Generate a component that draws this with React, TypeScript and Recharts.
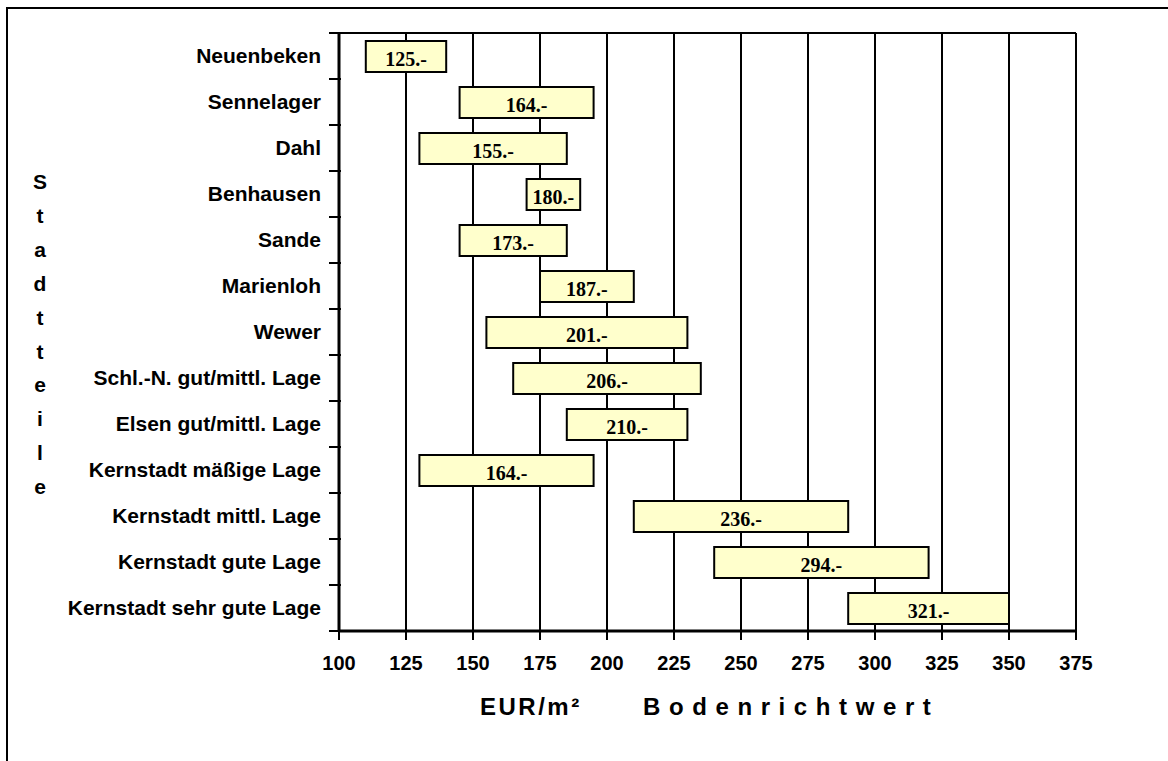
import React from 'react';
import { BarChart, Bar, XAxis, YAxis, CartesianGrid, LabelList, Label } from 'recharts';

const districts = [
  'Neuenbeken',
  'Sennelager',
  'Dahl',
  'Benhausen',
  'Sande',
  'Marienloh',
  'Wewer',
  'Schl.-N. gut/mittl. Lage',
  'Elsen gut/mittl. Lage',
  'Kernstadt mäßige Lage',
  'Kernstadt mittl. Lage',
  'Kernstadt gute Lage',
  'Kernstadt sehr gute Lage',
];
const rangeLow = [110, 145, 130, 170, 145, 175, 155, 165, 185, 130, 210, 240, 290];
const rangeHigh = [140, 195, 185, 190, 185, 210, 230, 235, 230, 195, 290, 320, 350];
const averageValues = [125, 164, 155, 180, 173, 187, 201, 206, 210, 164, 236, 294, 321];
const xTicks = [100, 125, 150, 175, 200, 225, 250, 275, 300, 325, 350, 375];
const xAxisUnit = 'EUR/m²';
const xAxisTitle = 'Bodenrichtwert';
const yAxisTitle = 'Stadtteile';

const data = districts.map((name, i) => ({
  name,
  range: [rangeLow[i], rangeHigh[i]],
  label: `${averageValues[i]}.-`,
}));

const SANS = '"Liberation Sans", Arial, sans-serif';
const SERIF = '"Liberation Serif", "Times New Roman", serif';
const Y_TICK_MARGIN = 18;
const BOUNDARY_TICK = 10;

const renderBarLabel = (props: any) => {
  const vb = props.viewBox && props.viewBox.width !== undefined ? props.viewBox : props;
  const x = Number(vb.x);
  const y = Number(vb.y);
  const w = Number(vb.width);
  const h = Number(vb.height);
  return (
    <text
      x={x + w / 2}
      y={y + h / 2 + 9}
      textAnchor="middle"
      fontFamily={SERIF}
      fontWeight="bold"
      fontSize={20}
      fill="#000"
    >
      {props.value}
    </text>
  );
};

const CategoryTick = (props: any) => {
  const { x, y, payload, index } = props;
  const half = payload && typeof payload.offset === 'number' && payload.offset > 0 ? payload.offset : 23;
  const axisX = x + Y_TICK_MARGIN;
  const isLast = index === districts.length - 1;
  return (
    <g>
      <line x1={axisX - BOUNDARY_TICK} x2={axisX + 2} y1={y - half} y2={y - half} stroke="#000" strokeWidth={2} />
      {isLast && (
        <line x1={axisX - BOUNDARY_TICK} x2={axisX + 2} y1={y + half} y2={y + half} stroke="#000" strokeWidth={2} />
      )}
      <text
        x={x}
        y={y}
        dy="0.355em"
        textAnchor="end"
        fontFamily={SANS}
        fontWeight="bold"
        fontSize={21}
        fill="#000"
      >
        {payload.value}
      </text>
    </g>
  );
};

const renderYTitle = () => (
  <text x={40} y={189} textAnchor="middle" fontFamily={SANS} fontWeight="bold" fontSize={21} fill="#000">
    {yAxisTitle.split('').map((c, i) => (
      <tspan key={i} x={40} dy={i === 0 ? 0 : 33.9}>
        {c}
      </tspan>
    ))}
  </text>
);

const renderXTitle = () => (
  <text x={480} y={715} textAnchor="start" fontFamily={SANS} fontWeight="bold" fontSize={24} fill="#000">
    <tspan style={{ letterSpacing: '2.5px' }}>{xAxisUnit + ' '}</tspan>
    <tspan x={643} style={{ letterSpacing: '8.6px' }}>
      {xAxisTitle}
    </tspan>
  </text>
);

export default function App() {
  return (
    <div style={{ position: 'fixed', left: 0, top: 0, width: 1168, height: 761, overflow: 'hidden', background: '#fff' }}>
      <div
        style={{
          position: 'absolute',
          left: 6,
          top: 7,
          width: 1300,
          height: 900,
          border: '2px solid #000',
          boxSizing: 'border-box',
        }}
      />
      <div style={{ position: 'absolute', left: 0, top: 0 }}>
        <BarChart
          width={1168}
          height={761}
          data={data}
          layout="vertical"
          margin={{ top: 32, right: 92, bottom: 80, left: 0 }}
          barCategoryGap={0}
        >
          <CartesianGrid xAxisId="x" yAxisId="cat" horizontal={false} stroke="#000" strokeWidth={2} />
          <XAxis
            xAxisId="x"
            type="number"
            domain={[100, 375]}
            ticks={xTicks}
            interval={0}
            allowDataOverflow
            height={50}
            axisLine={{ stroke: '#000', strokeWidth: 3 }}
            tickLine={{ stroke: '#000', strokeWidth: 2 }}
            tickSize={9}
            tickMargin={16}
            tick={{ fill: '#000', fontFamily: SANS, fontWeight: 'bold', fontSize: 20 }}
          >
            <Label content={renderXTitle} />
          </XAxis>
          <XAxis
            xAxisId="top"
            orientation="top"
            type="number"
            domain={[100, 375]}
            ticks={xTicks}
            allowDataOverflow
            height={1}
            tick={false}
            tickLine={false}
            axisLine={{ stroke: '#000', strokeWidth: 2 }}
          />
          <YAxis
            yAxisId="cat"
            type="category"
            dataKey="name"
            width={339}
            interval={0}
            axisLine={{ stroke: '#000', strokeWidth: 3 }}
            tickLine={false}
            tickSize={0}
            tickMargin={Y_TICK_MARGIN}
            tick={<CategoryTick />}
          >
            <Label content={renderYTitle} />
          </YAxis>
          <Bar
            xAxisId="x"
            yAxisId="cat"
            dataKey="range"
            fill="#FFFFCC"
            stroke="#000"
            strokeWidth={2}
            barSize={31}
            isAnimationActive={false}
          >
            <LabelList dataKey="label" content={renderBarLabel} />
          </Bar>
        </BarChart>
      </div>
    </div>
  );
}
